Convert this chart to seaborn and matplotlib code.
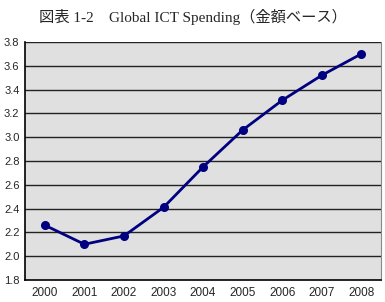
import numpy as np
import pandas as pd
import seaborn as sns
import matplotlib.pyplot as plt
from matplotlib.ticker import FixedLocator

years = ['2000', '2001', '2002', '2003', '2004', '2005', '2006', '2007', '2008']
spending = [2.26, 2.10, 2.17, 2.41, 2.75, 3.06, 3.31, 3.52, 3.70]
yticks = [1.8, 2.0, 2.2, 2.4, 2.6, 2.8, 3.0, 3.2, 3.4, 3.6, 3.8]

df = pd.DataFrame({'year': years, 'value': spending})

sns.set_style('white')
plt.rcParams['font.family'] = ['Liberation Sans', 'DejaVu Sans']

fig = plt.figure(figsize=(3.85, 3.02), dpi=100)
ax = fig.add_axes([0.065, 0.073, 0.925, 0.788])
ax.set_facecolor('#e0e0e0')

sns.pointplot(data=df, x='year', y='value', ax=ax, color='#000080',
              markers='o', markersize=5, linewidth=2)

ax.set_ylim(1.8, 3.8)
ax.set_xlim(-0.5, 8.5)
ax.set_yticks(yticks)
ax.set_yticklabels([f'{v:.1f}' for v in yticks])
for v in yticks[1:]:
    ax.axhline(v, color='#222222', lw=1.0, zorder=0)

# year ticks sit between the categories
ax.xaxis.set_minor_locator(FixedLocator(np.arange(0.5, 8.5, 1)))
ax.tick_params(axis='x', which='major', length=0, labelsize=8.5, pad=5)
ax.tick_params(axis='x', which='minor', length=4, width=1, color='black', direction='out')
ax.tick_params(axis='y', length=3, width=1, color='black', direction='out', labelsize=8, pad=1)
ax.set_xlabel('')
ax.set_ylabel('')

for s in ['left', 'bottom']:
    ax.spines[s].set_color('black')
    ax.spines[s].set_linewidth(1.2)
ax.spines['top'].set_visible(False)
ax.spines['right'].set_color('#888888')
ax.spines['right'].set_linewidth(0.8)

fig.text(0.5, 0.945, '図表 1-2\u3000Global ICT Spending（金額ベース）',
         ha='center', va='center', fontsize=11,
         family=['Liberation Serif', 'Noto Sans CJK JP'])

fig.savefig('out.png', dpi=100)
